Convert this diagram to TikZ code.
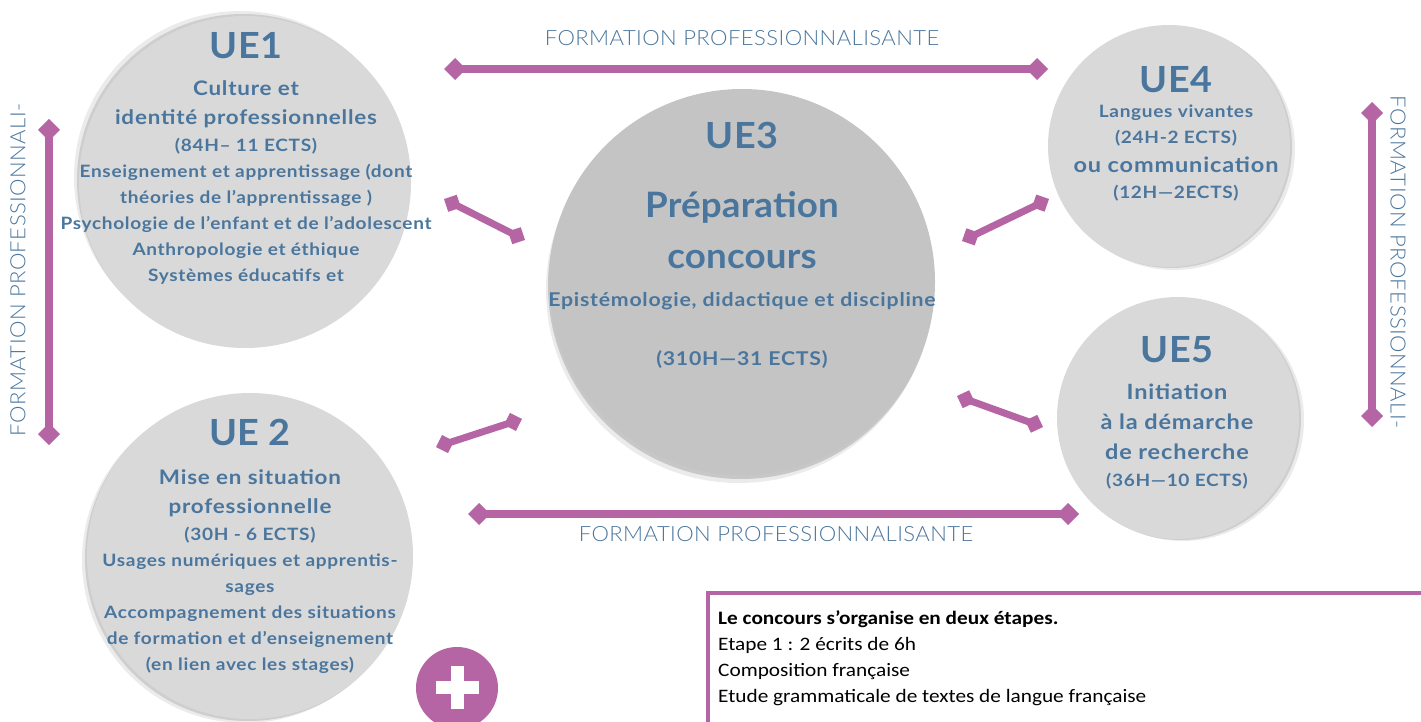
\documentclass[tikz,border=0pt]{standalone}
\usepackage{fontspec}
\setmainfont{Lato}[FakeStretch=1.12,LetterSpace=4]
\newfontfamily\titlefont{Lato}[FakeStretch=1.05,LetterSpace=0.5]
\newfontfamily\lightfont{Lato Light}[FakeStretch=1.05,LetterSpace=2]
\newfontfamily\boxfont{Carlito}[FakeStretch=1.12]
\usetikzlibrary{arrows.meta,shadows}
\definecolor{uepink}{RGB}{181,101,164}
\definecolor{ueblue}{RGB}{74,118,158}
\definecolor{uegray}{RGB}{217,217,217}
\definecolor{uedark}{RGB}{196,196,196}
\tikzset{
  ue/.style={circle,fill=uegray,inner sep=0pt,minimum size=#1},
  uetext/.style={anchor=north,align=center,inner sep=0pt,text=ueblue,font=\bfseries\fontsize{17}{26}\selectfont},
  formlabel/.style={inner sep=0pt,text=ueblue,font=\lightfont\fontsize{21}{24}\selectfont},
  link/.style={draw=uepink,line width=8pt,{Diamond[length=22pt,width=22pt]}-{Diamond[length=22pt,width=22pt]}},
  slink/.style={draw=uepink,line width=7pt,{Diamond[length=19pt,width=19pt]}-{Diamond[length=19pt,width=19pt]}}
}
\newcommand{\uetitle}[1]{{\titlefont\bfseries\fontsize{36}{36}\selectfont #1}}
\newcommand{\uebig}[1]{{\titlefont\bfseries\fontsize{35}{35}\selectfont #1}}
\newcommand{\uesub}[1]{{\fontsize{20}{26}\selectfont #1}}
\begin{document}
\begin{tikzpicture}[x=1pt,y=-1pt]
  \clip (0,0) rectangle (1421,722);
  \fill[white] (0,0) rectangle (1421,722);
  \node[ue=332pt,drop shadow={shadow xshift=-5pt,shadow yshift=5pt,opacity=.08,fill=black},drop shadow={shadow xshift=-2pt,shadow yshift=2pt,opacity=.12,fill=black}] (ue1) at (245,182) {};
  \node[ue=326pt,drop shadow={shadow xshift=-5pt,shadow yshift=-4pt,opacity=.08,fill=black},drop shadow={shadow xshift=-2pt,shadow yshift=-2pt,opacity=.12,fill=black}] (ue2) at (250,556) {};
  \node[ue=386pt,fill=uedark,drop shadow={shadow xshift=-3pt,shadow yshift=-8pt,opacity=.08,fill=black},drop shadow={shadow xshift=-1pt,shadow yshift=-4pt,opacity=.15,fill=black}] (ue3) at (742,282) {};
  \node[ue=242pt,drop shadow={shadow xshift=5pt,shadow yshift=-3pt,opacity=.08,fill=black},drop shadow={shadow xshift=2pt,shadow yshift=-1pt,opacity=.12,fill=black}] (ue4) at (1169,146) {};
  \node[ue=242pt,drop shadow={shadow xshift=5pt,shadow yshift=-2pt,opacity=.08,fill=black},drop shadow={shadow xshift=2pt,shadow yshift=-1pt,opacity=.12,fill=black}] (ue5) at (1178,418) {};
  \node[uetext] (ue1txt) at (246,32) {\uetitle{UE1}\\[11pt]
    \uesub{Culture et}\\[3pt]
    \uesub{identité professionnelles}\\[1pt]
    (84H– 11 ECTS)\\
    Enseignement et apprentissage (dont\\
    théories de l’apprentissage )\\
    Psychologie de l’enfant et de l’adolescent\\
    Anthropologie et éthique\\
    Systèmes éducatifs et};
  \node[uetext] (ue2txt) at (250,419) {\uetitle{UE 2}\\[13pt]
    \uesub{Mise en situation}\\[3pt]
    \uesub{professionnelle}\\[1pt]
    (30H - 6 ECTS)\\
    Usages numériques et apprentis-\\
    sages\\
    Accompagnement des situations\\
    de formation et d’enseignement\\
    (en lien avec les stages)};
  \node[uetext] (ue3txt) at (742,122) {\uetitle{UE3}\\[42pt]
    \uebig{Préparation}\\[25pt]
    \uebig{concours}\\[12pt]
    {\fontsize{19}{26}\selectfont Epistémologie, didactique et discipline}\\[33pt]
    {\fontsize{19}{26}\selectfont (310H—31 ECTS)}};
  \node[uetext] (ue4txt) at (1176,66) {\uetitle{UE4}\\[-1pt]
    Langues vivantes\\
    (24H-2 ECTS)\\[3pt]
    {\fontsize{21}{26}\selectfont ou communication}\\
    (12H—2ECTS)};
  \node[uetext] (ue5txt) at (1177,336) {\uetitle{UE5}\\[11pt]
    {\fontsize{21}{26}\selectfont Initiation}\\[4pt]
    {\fontsize{21}{26}\selectfont à la démarche}\\[4pt]
    {\fontsize{21}{26}\selectfont de recherche}\\[1pt]
    (36H—10 ECTS)};
  \node[formlabel] (toplab) at (742,38) {FORMATION PROFESSIONNALISANTE};
  \node[formlabel] (botlab) at (776,534) {FORMATION PROFESSIONNALISANTE};
  \node[formlabel,rotate=90] (leftlab) at (18,270) {FORMATION PROFESSIONNALI-};
  \node[formlabel,rotate=-90] (rightlab) at (1398,262) {FORMATION PROFESSIONNALI-};
  \coordinate (t1) at (444,69); \coordinate (t2) at (1048,69);
  \coordinate (b1) at (468,514); \coordinate (b2) at (1079,514);
  \coordinate (l1) at (49,119); \coordinate (l2) at (49,445);
  \coordinate (r1) at (1372,102); \coordinate (r2) at (1372,427);
  \coordinate (d1a) at (444,199); \coordinate (d1b) at (525,240);
  \coordinate (d2a) at (436,447); \coordinate (d2b) at (522,419);
  \coordinate (d3a) at (962,241); \coordinate (d3b) at (1049,199);
  \coordinate (d4a) at (957,396); \coordinate (d4b) at (1043,427);
  \draw[link] (t1) -- (t2);
  \draw[link] (b1) -- (b2);
  \draw[link] (l1) -- (l2);
  \draw[link] (r1) -- (r2);
  \draw[slink] (d1a) -- (d1b);
  \draw[slink] (d2a) -- (d2b);
  \draw[slink] (d3a) -- (d3b);
  \draw[slink] (d4a) -- (d4b);
  % plus
  \node[circle,fill=uepink,minimum size=82pt,inner sep=0pt] (plus) at (457,688) {};
  \fill[white] (436,681) rectangle (479,694);
  \fill[white] (451,666) rectangle (464,709);
  \draw[uepink,line width=4pt] (708,593) rectangle (1450,760);
  \node[anchor=north west,align=left,inner sep=0pt,font=\boxfont\fontsize{19}{26}\selectfont] (concours) at (718,610)
    {\textbf{Le concours s’organise en deux étapes.}\\
    Etape 1 : 2 écrits de 6h\\
    Composition française\\
    Etude grammaticale de textes de langue française};
\end{tikzpicture}
\end{document}
